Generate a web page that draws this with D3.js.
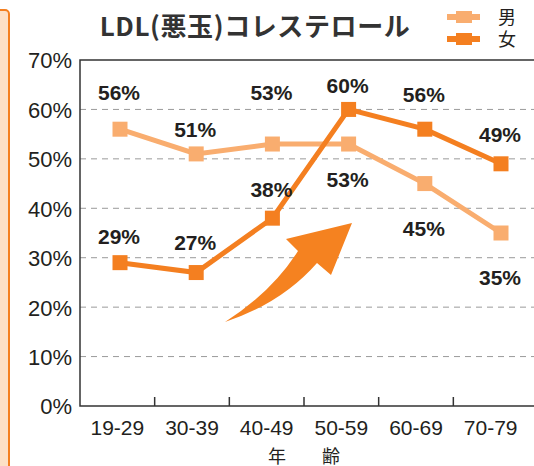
<!DOCTYPE html>
<html>
<head>
<meta charset="utf-8">
<title>LDL(悪玉)コレステロール</title>
<style>
  body { margin: 0; background: #fff; }
  svg { display: block; }
  .tick-label { font-family: "Liberation Sans", Arial, sans-serif; fill: #231f20; }
</style>
</head>
<body>
<script src="https://cdn.jsdelivr.net/npm/d3@7"></script>
<script>
// data
var ageGroups = ["19-29", "30-39", "40-49", "50-59", "60-69", "70-79"];
var male   = [56, 51, 53, 53, 45, 35];
var female = [29, 27, 38, 60, 56, 49];
var yTicks = [0, 10, 20, 30, 40, 50, 60, 70];

// label offsets (px from the marker) so the numbers sit where the original has them
var maleLabelDy   = [-29, -17, -44, 43, 52, 52];
var femaleLabelDy = [-19, -23, -21, -16, -27, -22];

var width = 534, height = 466;
var plot = {left: 80, right: 534, top: 60, bottom: 406};

var lightOrange = "#f9ad6f", darkOrange = "#f47f20", ink = "#231f20";

var svg = d3.select("body").append("svg")
  .attr("width", width)
  .attr("height", height);

// orange side panel on the left edge
svg.append("rect")
  .attr("x", -20).attr("y", 10)
  .attr("width", 29).attr("height", 500)
  .attr("rx", 4)
  .attr("fill", "#fde0c6")
  .attr("stroke", darkOrange)
  .attr("stroke-width", 2);

// scales
var xBand = d3.scaleBand().domain(ageGroups).range([plot.left, 528]);
var xPt = d3.scalePoint().domain(ageGroups).range([120, 501]);
var y = d3.scaleLinear().domain([0, 70]).range([plot.bottom, plot.top]);

// grid lines
svg.append("g").selectAll("line")
  .data(yTicks.filter(function(d) { return d > 0 && d < 70; }))
  .enter().append("line")
  .attr("x1", plot.left).attr("x2", plot.right)
  .attr("y1", function(d) { return y(d); })
  .attr("y2", function(d) { return y(d); })
  .attr("stroke", "#9a9a9a")
  .attr("stroke-width", 1)
  .attr("stroke-dasharray", "6,5");

// frame: top, left, bottom
svg.append("path")
  .attr("d", "M" + plot.right + "," + y(70) + "H" + plot.left + "V" + y(0) + "H" + plot.right)
  .attr("fill", "none")
  .attr("stroke", "#333")
  .attr("stroke-width", 1.5);

// y axis labels
var yAxis = d3.axisLeft(y).tickValues(yTicks).tickSize(0).tickPadding(8)
  .tickFormat(function(d) { return d + "%"; });
var gy = svg.append("g").attr("transform", "translate(" + plot.left + ",0)").call(yAxis);
gy.select(".domain").remove();
gy.selectAll("text")
  .attr("class", "tick-label")
  .attr("font-size", 22)
  .attr("dy", "0.36em");

// x axis labels and inner tick marks between groups
var xAxis = d3.axisBottom(xBand).tickSize(0).tickPadding(14);
var gx = svg.append("g").attr("transform", "translate(0," + plot.bottom + ")").call(xAxis);
gx.select(".domain").remove();
gx.selectAll("text")
  .attr("class", "tick-label")
  .attr("font-size", 21);

svg.append("g").selectAll("line")
  .data(ageGroups.slice(1))
  .enter().append("line")
  .attr("x1", function(d) { return xBand(d); })
  .attr("x2", function(d) { return xBand(d); })
  .attr("y1", plot.bottom).attr("y2", plot.bottom - 9)
  .attr("stroke", "#333")
  .attr("stroke-width", 1.5);

svg.append("text")
  .attr("x", 304).attr("y", 463)
  .attr("text-anchor", "middle")
  .attr("font-family", "'Noto Sans CJK JP', sans-serif")
  .attr("font-size", 18)
  .attr("fill", ink)
  .attr("xml:space", "preserve")
  .text("年　　齢");

// big rising arrow
svg.append("path")
  .attr("d", "M225,322 Q272,292 298,251 L286,239 L352,223 L331,275 L317,263 Q282,303 225,322 Z")
  .attr("fill", "#f58220");

// lines + markers
var line = d3.line()
  .x(function(d, i) { return xPt(ageGroups[i]); })
  .y(function(d) { return y(d); });

var series = [
  {name: "男", values: male, color: lightOrange, dy: maleLabelDy},
  {name: "女", values: female, color: darkOrange, dy: femaleLabelDy}
];

series.forEach(function(s) {
  svg.append("path")
    .datum(s.values)
    .attr("d", line)
    .attr("fill", "none")
    .attr("stroke", s.color)
    .attr("stroke-width", 5);

  svg.append("g").selectAll("rect")
    .data(s.values)
    .enter().append("rect")
    .attr("x", function(d, i) { return xPt(ageGroups[i]) - 7.5; })
    .attr("y", function(d) { return y(d) - 7.5; })
    .attr("width", 15).attr("height", 15)
    .attr("fill", s.color);
});

series.forEach(function(s) {
  svg.append("g").selectAll("text")
    .data(s.values)
    .enter().append("text")
    .attr("x", function(d, i) { return xPt(ageGroups[i]) - 1; })
    .attr("y", function(d, i) { return y(d) + s.dy[i]; })
    .attr("text-anchor", "middle")
    .attr("font-family", "'Liberation Sans', Arial, sans-serif")
    .attr("font-weight", "bold")
    .attr("font-size", 21)
    .attr("fill", ink)
    .text(function(d) { return d + "%"; });
});

// title
svg.append("text")
  .attr("x", 255).attr("y", 36)
  .attr("text-anchor", "middle")
  .attr("font-family", "'Noto Sans CJK JP', sans-serif")
  .attr("font-weight", "bold")
  .attr("font-size", 26)
  .attr("letter-spacing", 0.6)
  .attr("fill", "#333")
  .text("LDL(悪玉)コレステロール");

// legend
var legend = svg.append("g");
series.forEach(function(s, i) {
  var ly = 17 + i * 22;
  legend.append("line")
    .attr("x1", 447).attr("x2", 480)
    .attr("y1", ly).attr("y2", ly)
    .attr("stroke", s.color).attr("stroke-width", 6);
  legend.append("rect")
    .attr("x", 456).attr("y", ly - 6)
    .attr("width", 16).attr("height", 12)
    .attr("fill", s.color);
  legend.append("text")
    .attr("x", 507).attr("y", ly + 7)
    .attr("text-anchor", "middle")
    .attr("font-family", "'Noto Sans CJK JP', sans-serif")
    .attr("font-size", 18)
    .attr("fill", ink)
    .text(s.name);
});
</script>
</body>
</html>
